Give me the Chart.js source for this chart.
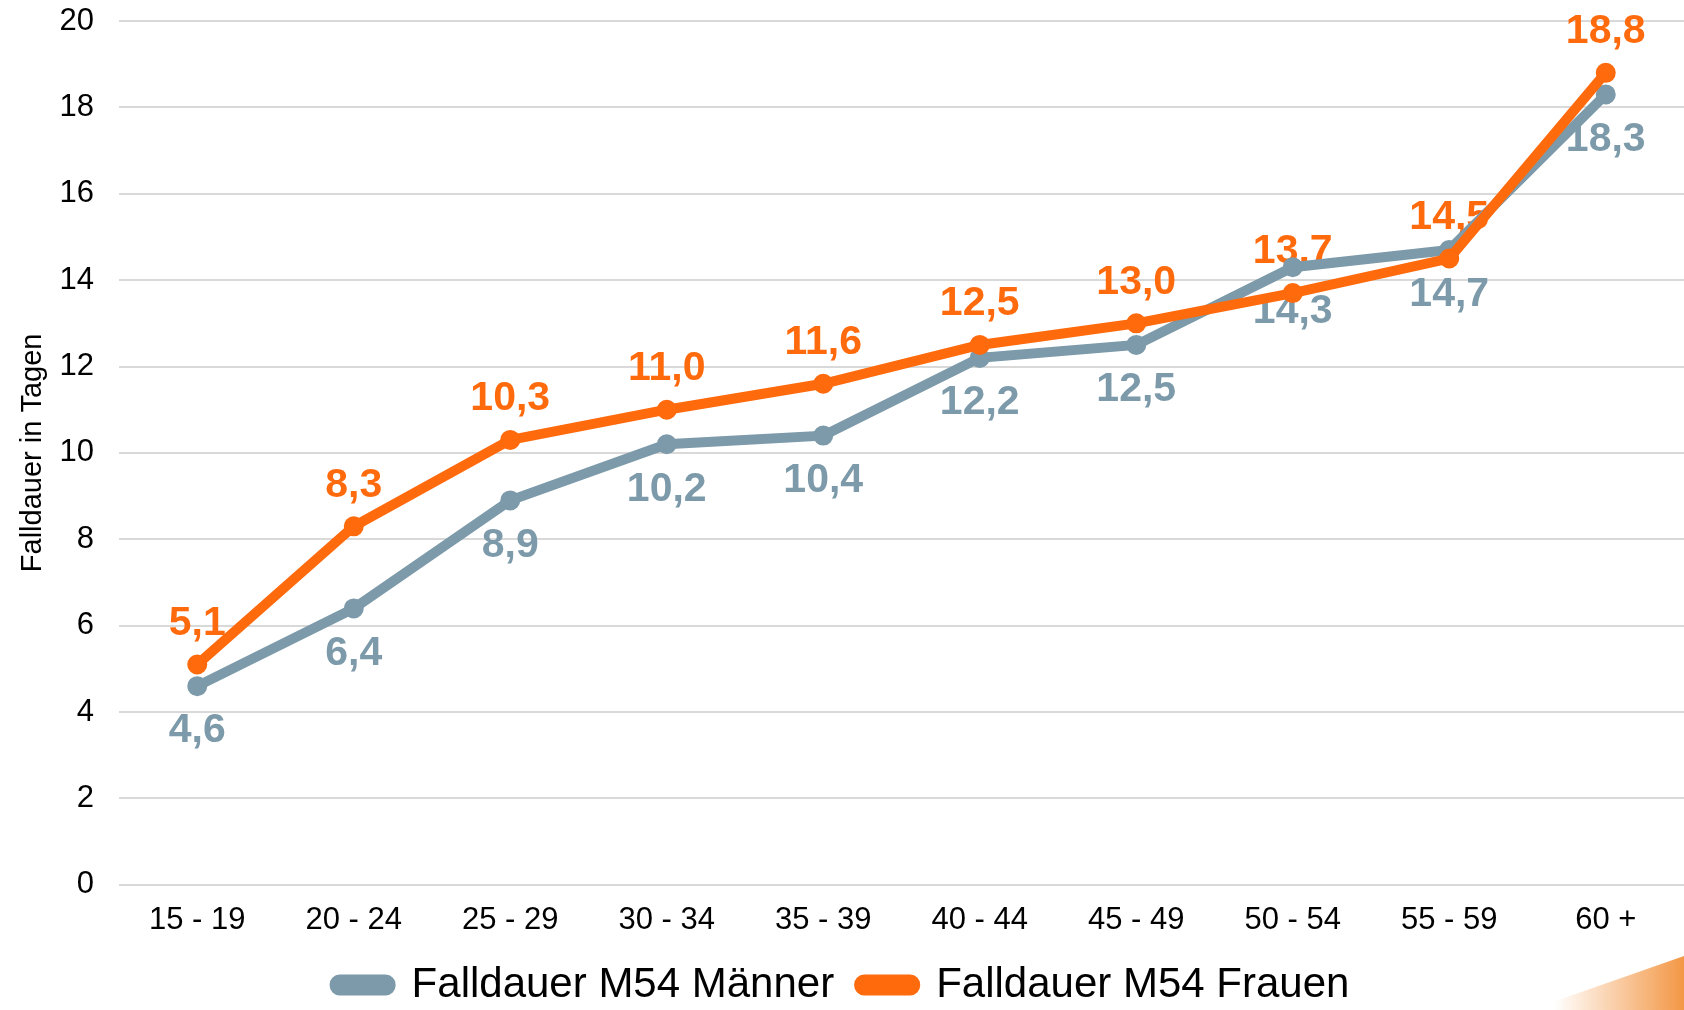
<!DOCTYPE html>
<html>
<head>
<meta charset="utf-8">
<script src="https://cdn.jsdelivr.net/npm/chart.js@4/dist/chart.umd.min.js"></script>
<style>
  html, body { margin: 0; padding: 0; background: #fff; overflow: hidden; }
  #wrap { width: 1684px; height: 1010px; position: relative; }
  canvas { display: block; }
</style>
</head>
<body>
<div id="wrap"><canvas id="myChart"></canvas></div>
<script>
var ageGroups = ["15 - 19", "20 - 24", "25 - 29", "30 - 34", "35 - 39", "40 - 44", "45 - 49", "50 - 54", "55 - 59", "60 +"];
var maenner = [4.6, 6.4, 8.9, 10.2, 10.4, 12.2, 12.5, 14.3, 14.7, 18.3];
var frauen = [5.1, 8.3, 10.3, 11.0, 11.6, 12.5, 13.0, 13.7, 14.5, 18.8];

var grey = "#7c9aa9";
var orange = "#ff6a0d";
var font = "'Liberation Sans', Arial, sans-serif";

// value labels, drawn under the lines like in the original
var valueLabels = {
	id: "valueLabels",
	beforeDatasetsDraw: function (chart) {
		var ctx = chart.ctx;
		ctx.save();
		ctx.font = "bold 41px " + font;
		ctx.textAlign = "center";
		ctx.textBaseline = "middle";
		chart.data.datasets.forEach(function (ds, i) {
			var meta = chart.getDatasetMeta(i);
			var above = ds.labelPos === "above";
			ctx.fillStyle = ds.borderColor;
			meta.data.forEach(function (pt, j) {
				var txt = ds.data[j].toFixed(1).replace(".", ",");
				ctx.fillText(txt, pt.x, above ? pt.y - 41 : pt.y + 45);
			});
		});
		ctx.restore();
	}
};

// the little orange wedge in the bottom right corner
var cornerDeco = {
	id: "cornerDeco",
	afterDraw: function (chart) {
		var ctx = chart.ctx;
		var w = chart.width, h = chart.height;
		var g = ctx.createLinearGradient(w - 130, 0, w, 0);
		g.addColorStop(0, "rgba(243,151,69,0)");
		g.addColorStop(1, "rgba(243,151,69,1)");
		ctx.save();
		ctx.fillStyle = g;
		ctx.beginPath();
		ctx.moveTo(w - 154, h);
		ctx.lineTo(w, h - 54);
		ctx.lineTo(w, h);
		ctx.closePath();
		ctx.fill();
		ctx.restore();
	}
};

var data = {
	labels: ageGroups,
	datasets: [
		{
			label: "Falldauer M54 Männer",
			data: maenner,
			borderColor: grey,
			backgroundColor: grey,
			pointBackgroundColor: grey,
			pointBorderColor: grey,
			borderWidth: 10,
			pointRadius: 5,
			tension: 0,
			order: 1,
			labelPos: "below"
		},
		{
			label: "Falldauer M54 Frauen",
			data: frauen,
			borderColor: orange,
			backgroundColor: orange,
			pointBackgroundColor: orange,
			pointBorderColor: orange,
			borderWidth: 10,
			pointRadius: 5,
			tension: 0,
			order: 0,
			labelPos: "above"
		}
	]
};

var options = {
	responsive: true,
	maintainAspectRatio: false,
	animation: false,
	// autoPadding would leave a gap on the right for the thick lines
	layout: { autoPadding: false, padding: { top: 21, left: 0, right: 0, bottom: 0 } },
	plugins: {
		tooltip: { enabled: false },
		legend: {
			position: "bottom",
			maxHeight: 71,
			labels: {
				font: { family: font, size: 42 },
				color: "#000",
				boxWidth: 56,
				boxHeight: 11,
				useBorderRadius: true,
				borderRadius: 5,
				padding: 25,
				sort: function (a, b) { return a.datasetIndex - b.datasetIndex; }
			}
		}
	},
	scales: {
		x: {
			offset: true,
			grid: { display: false, drawTicks: true, tickLength: 17 },
			border: { display: false },
			ticks: { font: { family: font, size: 31 }, color: "#000", padding: 0, maxRotation: 0 },
			afterFit: function (scale) { scale.paddingLeft = 0; scale.paddingRight = 0; }
		},
		y: {
			min: 0,
			max: 20,
			ticks: { stepSize: 2, font: { family: font, size: 31 }, color: "#000", padding: 0 },
			grid: { color: "#d9d9d9", lineWidth: 2, drawTicks: true, tickLength: 25, tickColor: "rgba(0,0,0,0)" },
			border: { display: false },
			title: { display: true, text: "Falldauer in Tagen", font: { family: font, size: 29 }, color: "#000", padding: { top: 16, bottom: 0 } },
			afterFit: function (scale) { scale.width = 119; }
		}
	}
};

var ctx = document.getElementById("myChart").getContext("2d");
var chart = new Chart(ctx, { type: "line", data: data, options: options, plugins: [valueLabels, cornerDeco] });
</script>
</body>
</html>
